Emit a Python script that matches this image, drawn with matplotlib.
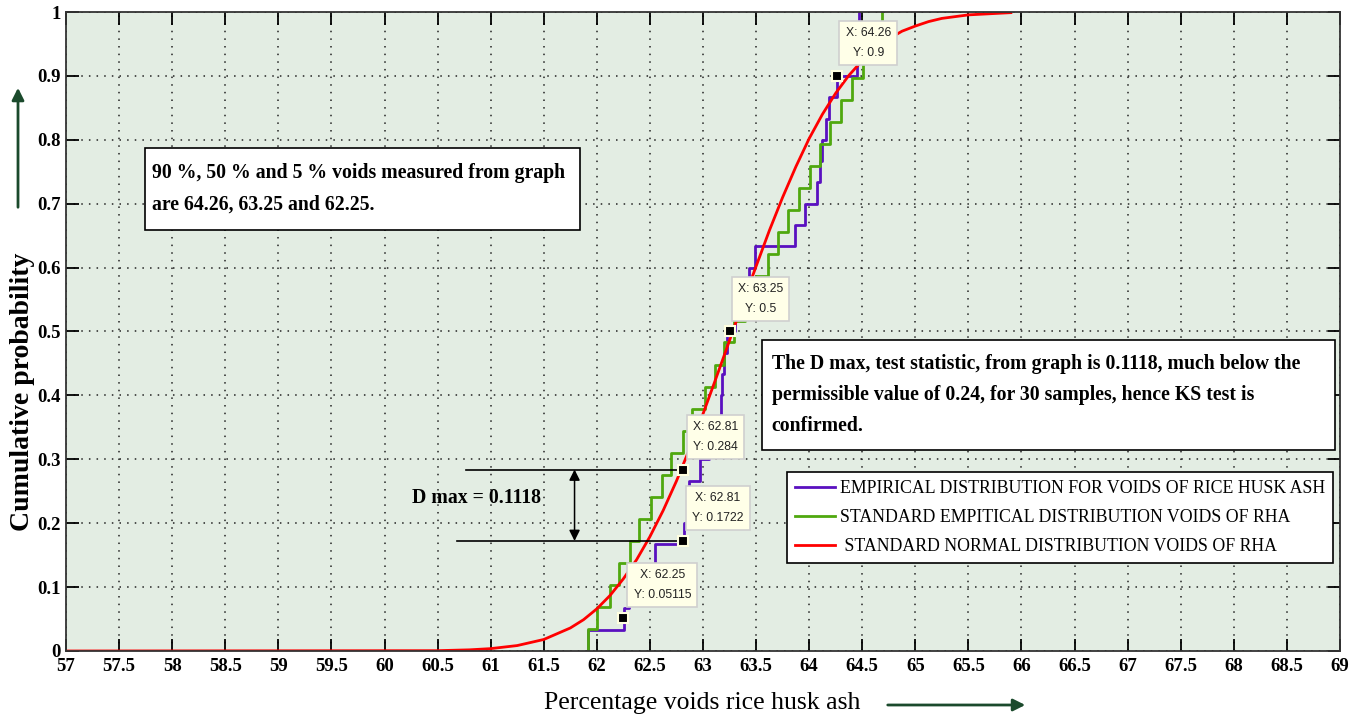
import matplotlib
matplotlib.use("Agg")
import matplotlib.pyplot as plt
from matplotlib.patches import FancyArrowPatch, Rectangle

# empirical CDF of the 30 void measurements (%)
emp_x = [61.92, 62.26, 62.30, 62.45, 62.55, 62.82, 62.85, 62.87, 62.97, 63.06,
         63.13, 63.17, 63.18, 63.20, 63.23, 63.30, 63.36, 63.43, 63.49, 63.87,
         63.96, 64.07, 64.10, 64.12, 64.16, 64.19, 64.26, 64.45, 64.46, 64.47]
emp_y = [0.0333, 0.0667, 0.1, 0.1333, 0.1667, 0.2, 0.2333, 0.2667, 0.3, 0.3333,
         0.3667, 0.4, 0.4333, 0.4667, 0.5, 0.5333, 0.5667, 0.6, 0.6333, 0.6667,
         0.7, 0.7333, 0.7667, 0.8, 0.8333, 0.8667, 0.9, 0.9333, 0.9667, 1.0]

# standard empirical distribution
std_x = [61.92, 62.00, 62.12, 62.21, 62.31, 62.40, 62.51, 62.61, 62.70, 62.81,
         62.90, 63.02, 63.11, 63.20, 63.29, 63.40, 63.50, 63.61, 63.71, 63.80,
         63.90, 64.01, 64.10, 64.20, 64.30, 64.40, 64.51, 64.60, 64.69]
std_y = [0.0345, 0.0690, 0.1034, 0.1379, 0.1724, 0.2069, 0.2414, 0.2759, 0.3103,
         0.3448, 0.3793, 0.4138, 0.4483, 0.4828, 0.5172, 0.5517, 0.5862, 0.6207,
         0.6552, 0.6897, 0.7241, 0.7586, 0.7931, 0.8276, 0.8621, 0.8966, 0.9310,
         0.9655, 1.0]

# standard normal distribution curve
norm_x = [57.0, 60.5, 60.8, 61.0, 61.25, 61.5, 61.75, 61.875, 62.0, 62.125, 62.25,
          62.375, 62.5, 62.625, 62.75, 62.875, 63.0, 63.125, 63.25, 63.375, 63.5,
          63.625, 63.75, 63.875, 64.0, 64.125, 64.25, 64.375, 64.5, 64.625, 64.75,
          64.875, 65.0, 65.125, 65.25, 65.5, 65.9]
norm_y = [0.0, 0.0005, 0.0018, 0.0037, 0.0085, 0.018, 0.036, 0.049, 0.066, 0.087,
          0.113, 0.143, 0.179, 0.220, 0.266, 0.317, 0.371, 0.428, 0.486, 0.545,
          0.602, 0.658, 0.710, 0.758, 0.802, 0.840, 0.873, 0.901, 0.924, 0.943,
          0.958, 0.970, 0.978, 0.985, 0.990, 0.9955, 0.999]

# data cursor points
tip_x = [64.26, 63.25, 62.81, 62.81, 62.25]
tip_y = [0.9, 0.5, 0.284, 0.1722, 0.05115]
tip_text = ["X: 64.26\nY: 0.9", "X: 63.25\nY: 0.5", "X: 62.81\nY: 0.284",
            "X: 62.81\nY: 0.1722", "X: 62.25\nY: 0.05115"]
tip_box_pos = [(64.556, 0.951), (63.544, 0.551), (63.12, 0.335),
               (63.139, 0.224), (62.617, 0.103)]

x_ticks = [57 + 0.5 * i for i in range(25)]
x_tick_labels = ["%g" % v for v in x_ticks]
y_ticks = [0.1 * i for i in range(11)]
y_tick_labels = ["0", "0.1", "0.2", "0.3", "0.4", "0.5", "0.6", "0.7", "0.8", "0.9", "1"]

serif = "Liberation Serif"
purple = "#5A10C0"
green = "#4FA80E"
dark_green = "#1B4A2C"

fig = plt.figure(figsize=(13.64, 7.23), dpi=100)
ax = fig.add_axes([0.0484, 0.0996, 0.934, 0.8838])
ax.set_facecolor("#E3EDE3")

ax.step([emp_x[0]] + emp_x, [0.0] + emp_y, where="post", color=purple, lw=2,
        label="EMPIRICAL DISTRIBUTION FOR VOIDS OF RICE HUSK ASH")
ax.step([std_x[0]] + std_x, [0.0] + std_y, where="post", color=green, lw=2,
        label="STANDARD EMPITICAL DISTRIBUTION VOIDS OF RHA")
ax.plot(norm_x, norm_y, color="red", lw=2,
        label=" STANDARD NORMAL DISTRIBUTION VOIDS OF RHA")

ax.set_xlim(57, 69)
ax.set_ylim(0, 1)
ax.set_xticks(x_ticks)
ax.set_xticklabels(x_tick_labels)
ax.set_yticks(y_ticks)
ax.set_yticklabels(y_tick_labels)
for lab in ax.get_xticklabels() + ax.get_yticklabels():
    lab.set_fontfamily(serif)
    lab.set_fontweight("bold")
    lab.set_fontsize(13.5)
ax.tick_params(direction="in", length=9, width=1.3, top=True, right=True)
ax.tick_params(axis="x", pad=5)
ax.tick_params(axis="y", pad=4)
ax.grid(True, color="#222222", linestyle=(0, (1, 4)), linewidth=1.1)
for sp in ax.spines.values():
    sp.set_linewidth(1.3)
    sp.set_color("#333333")

# D max bracket
ax.plot([60.77, 62.81], [0.284, 0.284], color="black", lw=1.2)
ax.plot([60.68, 62.81], [0.1722, 0.1722], color="black", lw=1.2)
ax.add_patch(FancyArrowPatch((61.79, 0.1722), (61.79, 0.284), arrowstyle="<|-|>",
                             mutation_scale=16, color="black", lw=1.1,
                             shrinkA=0, shrinkB=0))
ax.text(60.26, 0.24, "D max = 0.1118", family=serif, weight="bold", fontsize=14.2,
        va="center", ha="left")

# data cursor markers and their boxes
ax.plot(tip_x, tip_y, "s", ms=7.5, mfc="black", mec="#FFFFE0", mew=1.5, zorder=6)
for txt, (bx, by) in zip(tip_text, tip_box_pos):
    ax.text(bx, by, txt, fontsize=8.8, family="Liberation Sans", color="#222222",
            ha="center", va="center", linespacing=1.9, zorder=7,
            bbox=dict(boxstyle="square,pad=0.5", fc="#FFFFE8", ec="#CFCFCF", lw=1.2))

# note boxes
ax.add_patch(Rectangle((57.744, 0.659), 4.096, 0.128, fc="white", ec="black",
                       lw=1.2, zorder=5))
ax.text(57.81, 0.723, "90 %, 50 % and 5 % voids measured from graph\nare 64.26, 63.25 and 62.25.",
        family=serif, weight="bold", fontsize=14.2, ha="left", va="center",
        linespacing=1.75, zorder=6)
ax.add_patch(Rectangle((63.554, 0.3146), 5.395, 0.1721, fc="white", ec="black",
                       lw=1.2, zorder=5))
ax.text(63.648, 0.4006,
        "The D max, test statistic, from graph is 0.1118, much below the\n"
        "permissible value of 0.24, for 30 samples, hence KS test is\nconfirmed.",
        family=serif, weight="bold", fontsize=14.2, ha="left", va="center",
        linespacing=1.75, zorder=6)

leg = ax.legend(loc="upper right", bbox_to_anchor=(0.9945, 0.2801),
                prop={"family": serif, "size": 12.8}, fancybox=False, framealpha=1,
                edgecolor="black", handlelength=2.25, handletextpad=0.3,
                labelspacing=0.68, borderpad=0.45, borderaxespad=0)
leg.get_frame().set_linewidth(1.2)

fig.text(0.5147, 0.0277, "Percentage voids rice husk ash", family=serif, fontsize=18.5,
         ha="center", va="center")
fig.text(0.0165, 0.458, "Cumulative probability", family=serif, fontsize=20,
         weight="bold", rotation=90, ha="center", va="center")

fig.add_artist(FancyArrowPatch((0.6488, 0.0249), (0.7537, 0.0249),
                               transform=fig.transFigure, arrowstyle="-|>",
                               mutation_scale=18, color=dark_green, lw=2))
fig.add_artist(FancyArrowPatch((0.0132, 0.7095), (0.0132, 0.8824),
                               transform=fig.transFigure, arrowstyle="-|>",
                               mutation_scale=18, color=dark_green, lw=2))

fig.savefig("out.png", dpi=100)
